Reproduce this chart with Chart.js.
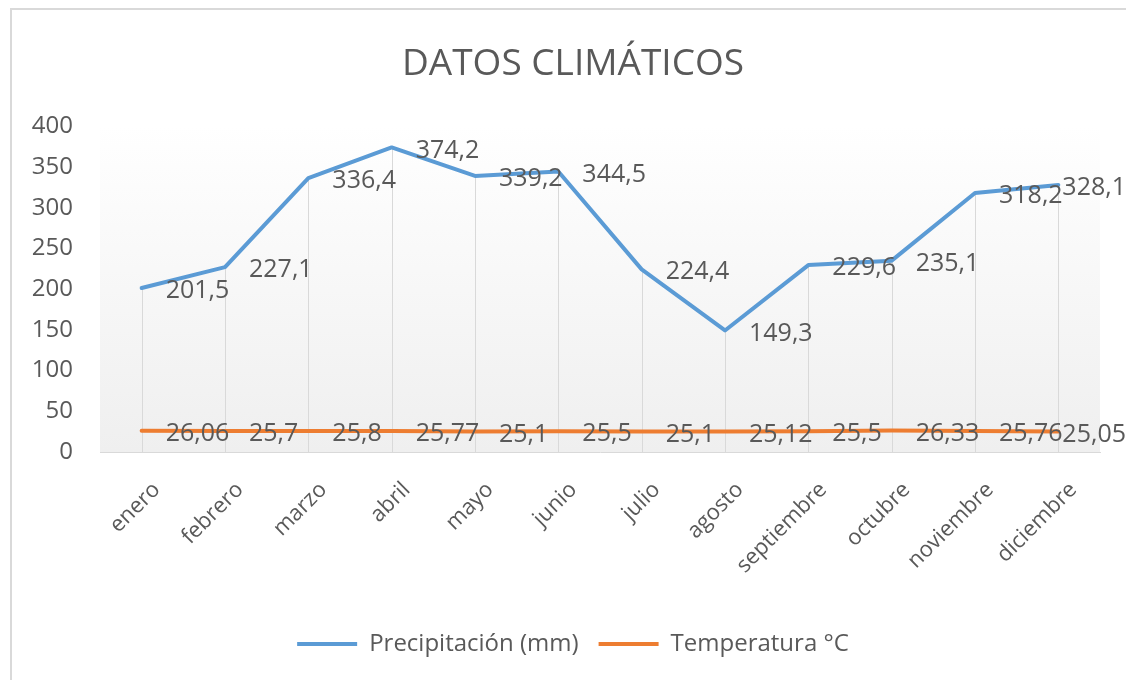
<!DOCTYPE html>
<html lang="es">
<head>
<meta charset="utf-8">
<title>Datos climáticos</title>
<script src="https://cdn.jsdelivr.net/npm/chart.js@4/dist/chart.umd.min.js"></script>
<style>
    html, body { margin: 0; padding: 0; background: #fff; overflow: hidden; }
    #marco { position: absolute; left: 0; top: 0; width: 1126px; height: 680px; }
    #borde {
        position: absolute; left: 10px; top: 8px; width: 1130px; height: 690px;
        border: 2px solid #d9d9d9; pointer-events: none; box-sizing: border-box;
    }
</style>
</head>
<body>
<div id="marco">
    <canvas id="grafico" width="1126" height="680"></canvas>
    <div id="borde"></div>
</div>
<script>
// datos
const meses = ['enero', 'febrero', 'marzo', 'abril', 'mayo', 'junio', 'julio',
    'agosto', 'septiembre', 'octubre', 'noviembre', 'diciembre'];
const precipitacion = [201.5, 227.1, 336.4, 374.2, 339.2, 344.5, 224.4, 149.3, 229.6, 235.1, 318.2, 328.1];
const temperatura = [26.06, 25.7, 25.8, 25.77, 25.1, 25.5, 25.1, 25.12, 25.5, 26.33, 25.76, 25.05];
const ticksY = [0, 50, 100, 150, 200, 250, 300, 350, 400];

const gris = '#595959';
Chart.defaults.font.family = "'Open Sans', 'Liberation Sans', sans-serif";
Chart.defaults.color = gris;

// fondo degradado del área de trazado
const fondoPlot = {
    id: 'fondoPlot',
    beforeDraw(chart) {
        const { ctx, chartArea: a } = chart;
        const g = ctx.createLinearGradient(0, a.top, 0, a.bottom);
        g.addColorStop(0, '#ffffff');
        g.addColorStop(1, '#efefef');
        ctx.save();
        ctx.fillStyle = g;
        ctx.fillRect(a.left, a.top, a.right - a.left, a.bottom - a.top);
        ctx.restore();
    }
};

// líneas de caída desde el punto más alto hasta el eje
const lineasCaida = {
    id: 'lineasCaida',
    beforeDatasetsDraw(chart) {
        const { ctx, chartArea: a } = chart;
        const metas = chart.data.datasets.map((d, i) => chart.getDatasetMeta(i));
        ctx.save();
        ctx.strokeStyle = '#d9d9d9';
        ctx.lineWidth = 1;
        metas[0].data.forEach((p, i) => {
            const top = Math.min(...metas.map(m => m.data[i].y));
            const x = Math.round(p.x) + 0.5;
            ctx.beginPath();
            ctx.moveTo(x, top);
            ctx.lineTo(x, a.bottom);
            ctx.stroke();
        });
        ctx.restore();
    }
};

// etiquetas de datos a la derecha de cada punto (sin salirse del lienzo)
const etiquetas = {
    id: 'etiquetas',
    afterDatasetsDraw(chart) {
        const { ctx } = chart;
        ctx.save();
        ctx.font = "25px 'Open Sans', sans-serif";
        ctx.fillStyle = gris;
        ctx.textAlign = 'left';
        ctx.textBaseline = 'middle';
        chart.data.datasets.forEach((d, di) => {
            chart.getDatasetMeta(di).data.forEach((p, i) => {
                const txt = String(d.data[i]).replace('.', ',');
                const w = ctx.measureText(txt).width;
                const x = Math.min(p.x + 24, chart.width - w);
                ctx.fillText(txt, x, p.y + 3);
            });
        });
        ctx.restore();
    }
};

new Chart(document.getElementById('grafico'), {
    type: 'line',
    data: {
        labels: meses,
        datasets: [{
            label: 'Precipitación (mm)',
            data: precipitacion,
            borderColor: '#5b9bd5',
            backgroundColor: '#5b9bd5',
            borderWidth: 4
        }, {
            label: 'Temperatura °C',
            data: temperatura,
            borderColor: '#ed7d31',
            backgroundColor: '#ed7d31',
            borderWidth: 4
        }]
    },
    options: {
        responsive: false,
        animation: false,
        layout: { padding: { left: 20, right: 0, top: 0, bottom: 14 } },
        elements: {
            point: { radius: 0 },
            line: { tension: 0, borderCapStyle: 'round', borderJoinStyle: 'round' }
        },
        scales: {
            x: {
                offset: true,
                grid: { display: false, drawTicks: false },
                border: { color: '#d9d9d9', width: 1 },
                ticks: { minRotation: 45, maxRotation: 45, padding: 25, labelOffset: 15, font: { size: 22 }, color: gris },
                afterFit(scale) { scale.height = 160; }
            },
            y: {
                min: ticksY[0],
                max: ticksY[ticksY.length - 1],
                afterBuildTicks(scale) { scale.ticks = ticksY.map(v => ({ value: v })); },
                grid: { display: false, drawTicks: false },
                border: { display: false },
                ticks: { padding: 27, font: { size: 24 }, color: gris },
                afterFit(scale) { scale.width = 80; }
            },
            // eje vacío a la derecha, sólo para dejar margen al área de trazado
            margen: {
                position: 'right',
                grid: { display: false, drawTicks: false },
                border: { display: false },
                ticks: { display: false },
                afterFit(scale) { scale.width = 26; }
            }
        },
        plugins: {
            title: {
                display: true,
                text: 'DATOS CLIMÁTICOS',
                color: gris,
                font: { size: 37, weight: 'normal' },
                padding: { top: 42, bottom: 40 }
            },
            legend: {
                position: 'bottom',
                labels: {
                    usePointStyle: true,
                    pointStyle: 'line',
                    pointStyleWidth: 60,
                    padding: 20,
                    color: gris,
                    font: { size: 24 }
                }
            },
            tooltip: { enabled: false }
        }
    },
    plugins: [fondoPlot, lineasCaida, etiquetas]
});
</script>
</body>
</html>
